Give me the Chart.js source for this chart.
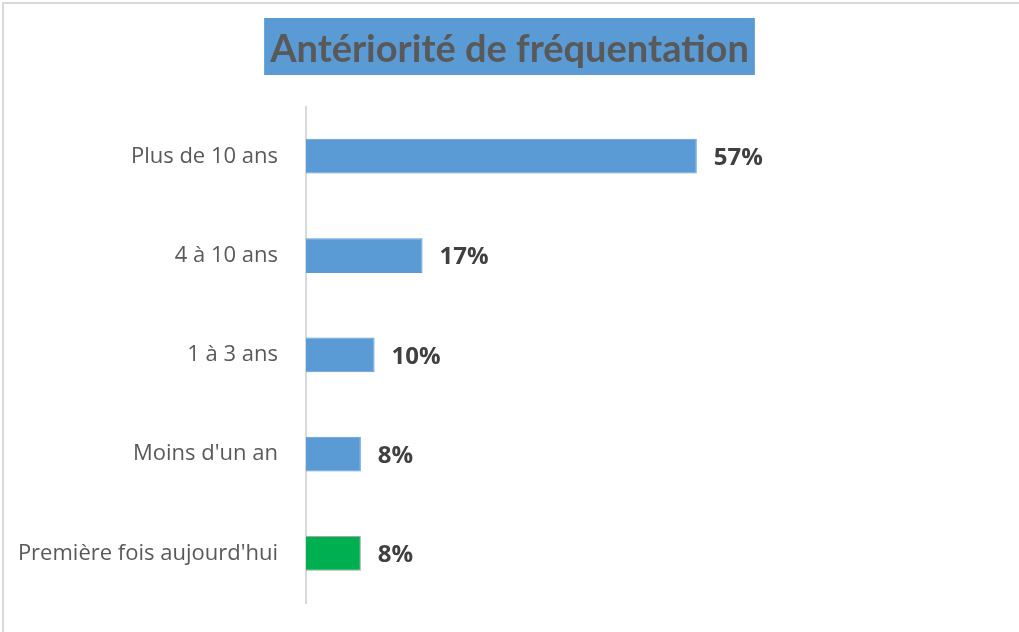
<!DOCTYPE html>
<html>
<head>
<meta charset="utf-8">
<script src="https://cdn.jsdelivr.net/npm/chart.js@4"></script>
<style>
  html, body { margin: 0; padding: 0; background: #fff; }
  #wrap { position: absolute; left: 0; top: 0; width: 1019px; height: 632px; }
  #frame { position: absolute; left: 2px; top: 2px; width: 1030px; height: 640px; border-top: 2px solid #D9D9D9; border-left: 2px solid #D9D9D9; box-sizing: border-box; pointer-events: none; }
</style>
</head>
<body>
<div id="wrap"><canvas id="c" width="1019" height="632"></canvas><div id="frame"></div></div>
<script>
const chartTitle = "Antériorité de fréquentation";
const categories = ["Plus de 10 ans", "4 à 10 ans", "1 à 3 ans", "Moins d'un an", "Première fois aujourd'hui"];
const values = [57, 17, 10, 8, 8];
const barColors = ["#5B9BD5", "#5B9BD5", "#5B9BD5", "#5B9BD5", "#00B050"];
const barBorders = ["#5B9BD5", "#5B9BD5", "#5B9BD5", "#5B9BD5", "#A5A5A5"];

const titleBg = {
  id: 'titleBg',
  beforeDraw(chart) {
    const tb = chart.titleBlock;
    if (!tb) return;
    const ctx = chart.ctx;
    const font = chart.options.plugins.title.font;
    ctx.save();
    ctx.font = `${font.weight} ${font.size}px ${font.family}`;
    const w = ctx.measureText(chartTitle).width;
    const cx = (tb.left + tb.right) / 2;
    ctx.fillStyle = "#5B9BD5";
    ctx.fillRect(cx - w / 2 - 6, 18, w + 12, 57);
    ctx.restore();
  }
};

const valueLabels = {
  id: 'valueLabels',
  afterDatasetsDraw(chart) {
    const ctx = chart.ctx;
    const meta = chart.getDatasetMeta(0);
    ctx.save();
    ctx.font = "bold 24px 'Open Sans'";
    ctx.fillStyle = "#404040";
    ctx.textAlign = "left";
    ctx.textBaseline = "middle";
    meta.data.forEach((bar, i) => {
      ctx.fillText(values[i] + "%", bar.x + 17, bar.y + 2);
    });
    ctx.restore();
  }
};

new Chart(document.getElementById('c'), {
  type: 'bar',
  data: {
    labels: categories,
    datasets: [{
      data: values,
      backgroundColor: barColors,
      borderColor: barBorders,
      borderWidth: 1,
      categoryPercentage: 1,
      barPercentage: 0.35
    }]
  },
  options: {
    indexAxis: 'y',
    responsive: false,
    animation: false,
    devicePixelRatio: 1,
    layout: { padding: { top: 0, bottom: 29, left: 0, right: 0 } },
    plugins: {
      legend: { display: false },
      tooltip: { enabled: false },
      title: {
        display: true,
        text: chartTitle,
        color: "#595959",
        font: { family: "Lato", size: 38, weight: "bold", lineHeight: 1.2 },
        padding: { top: 27, bottom: 34 }
      }
    },
    scales: {
      x: {
        display: false,
        min: 0,
        max: 104
      },
      y: {
        afterFit(scale) {
          scale.width = 306;
          scale.paddingTop = 0;
          scale.paddingBottom = 0;
        },
        grid: { display: false, drawTicks: false },
        border: { display: true, color: "#D9D9D9", width: 2 },
        ticks: {
          color: "#595959",
          padding: 28,
          font: { family: "'Open Sans'", size: 22 }
        }
      }
    }
  },
  plugins: [titleBg, valueLabels]
});
</script>
</body>
</html>
